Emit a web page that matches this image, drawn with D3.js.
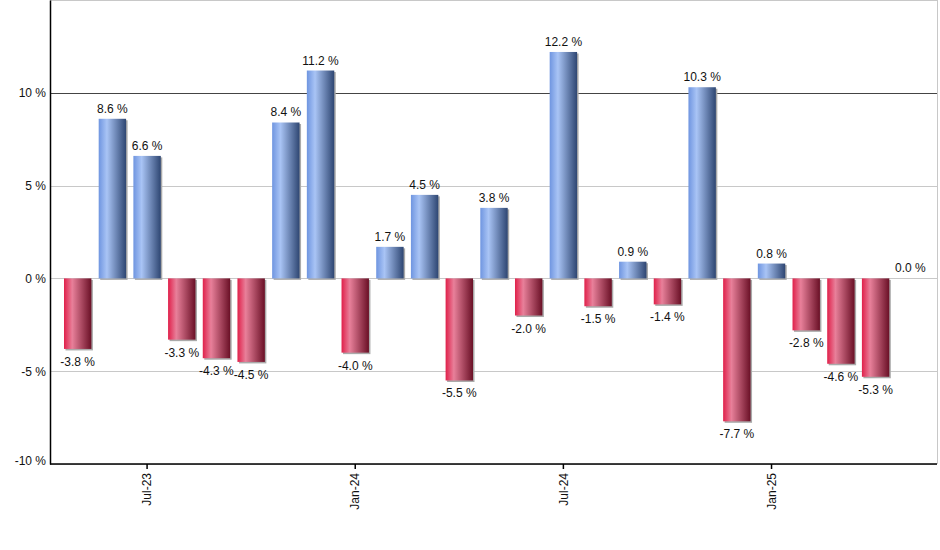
<!DOCTYPE html>
<html>
<head>
<meta charset="UTF-8"/>
<script src="https://d3js.org/d3.v7.min.js"></script>
<style>body{margin:0;background:#fff;} text{font-family:Arial,"Liberation Sans",sans-serif;}</style>
</head>
<body>
<div id="chart"></div>
<script>
    var w = 940, h = 550;

    // Monthly returns, May-23 .. May-25
    var months = ["May-23","Jun-23","Jul-23","Aug-23","Sep-23","Oct-23","Nov-23","Dec-23",
                  "Jan-24","Feb-24","Mar-24","Apr-24","May-24","Jun-24","Jul-24","Aug-24",
                  "Sep-24","Oct-24","Nov-24","Dec-24","Jan-25","Feb-25","Mar-25","Apr-25","May-25"];
    var values = [-3.8, 8.6, 6.6, -3.3, -4.3, -4.5, 8.4, 11.2, -4.0, 1.7, 4.5, -5.5, 3.8,
                  -2.0, 12.2, -1.5, 0.9, -1.4, 10.3, -7.7, 0.8, -2.8, -4.6, -5.3, 0.0];
    var tickMonths = ["Jul-23","Jan-24","Jul-24","Jan-25"];
    var yTicks = [-10, -5, 0, 5, 10];

    var padL = 50, padR = 937, padT = 0, padB = 464;

    var x = d3.scaleBand().domain(months).range([64, 924]).paddingInner(0.21);
    var y = d3.scaleLinear().domain([-10, 15]).range([padB, padT]);

    var svg = d3.select("#chart").append("svg").attr("width", w).attr("height", h);
    var defs = svg.append("defs");

    function grad(id, c0, c1, c2) {
        var g = defs.append("linearGradient").attr("id", id).attr("x1", "0").attr("x2", "1").attr("y1", "0").attr("y2", "0");
        g.append("stop").attr("offset", "0").attr("stop-color", c0);
        g.append("stop").attr("offset", "0.3").attr("stop-color", c1);
        g.append("stop").attr("offset", "1").attr("stop-color", c2);
    }
    grad("gPos", "#6f95e0", "#a9c4f5", "#2e4672");
    grad("gNeg", "#e0204a", "#e8809a", "#6a1026");

    // grid
    svg.selectAll("line.grid").data(yTicks.concat([15])).enter().append("line")
        .attr("x1", padL).attr("x2", padR)
        .attr("y1", function(d){ return y(d) + 0.5; }).attr("y2", function(d){ return y(d) + 0.5; })
        .attr("stroke", function(d){ return d === 10 ? "#444" : "#c8c8c8"; })
        .attr("stroke-width", 1).attr("shape-rendering", "crispEdges");
    svg.append("line").attr("x1", padR).attr("x2", padR).attr("y1", padT).attr("y2", padB)
        .attr("stroke", "#c8c8c8").attr("shape-rendering", "crispEdges");

    // bar shadows
    svg.selectAll("rect.shadow").data(values).enter().append("rect")
        .attr("x", function(d, i){ return x(months[i]) + 1.5; })
        .attr("y", function(d){ return Math.min(y(d), y(0)) + 1.5; })
        .attr("width", x.bandwidth())
        .attr("height", function(d){ return Math.abs(y(d) - y(0)); })
        .attr("fill", "#aaa");

    svg.selectAll("rect.bar").data(values).enter().append("rect")
        .attr("x", function(d, i){ return x(months[i]); })
        .attr("y", function(d){ return Math.min(y(d), y(0)); })
        .attr("width", x.bandwidth())
        .attr("height", function(d){ return Math.abs(y(d) - y(0)); })
        .attr("fill", function(d){ return d >= 0 ? "url(#gPos)" : "url(#gNeg)"; });

    svg.selectAll("text.lbl").data(values).enter().append("text")
        .attr("x", function(d, i){ return x(months[i]) + x.bandwidth() / 2; })
        .attr("y", function(d){ return d >= 0 ? y(d) - 6 : y(d) + 17; })
        .attr("text-anchor", "middle").attr("font-size", "12px").attr("fill", "#111")
        .text(function(d){ return d.toFixed(1) + " %"; });

    // axes
    var yAxis = d3.axisLeft(y).tickValues(yTicks).tickSize(0).tickPadding(4)
        .tickFormat(function(d){ return d + " %"; });
    var gy = svg.append("g").attr("transform", "translate(" + padL + ",0)").call(yAxis);
    gy.select(".domain").attr("stroke", "#000").attr("stroke-width", 1.5);
    gy.selectAll("text").attr("font-size", "12px").attr("fill", "#111");
    gy.selectAll("text").attr("dy", function(d){ return d === -10 ? "0" : "0.32em"; });

    var xAxis = d3.axisBottom(x).tickValues(tickMonths).tickSize(5).tickSizeOuter(0);
    var gx = svg.append("g").attr("transform", "translate(0," + padB + ")").call(xAxis);
    gx.select(".domain").attr("d", "M" + padL + ",0H" + padR).attr("stroke", "#000").attr("stroke-width", 1.5);
    gx.selectAll("line").attr("stroke", "#000").attr("stroke-width", 1.5);
    gx.selectAll("text").attr("font-size", "12px").attr("fill", "#111")
        .attr("transform", "rotate(-90)").attr("text-anchor", "end")
        .attr("x", -9).attr("y", 0).attr("dy", "0.35em");
</script>
</body>
</html>
